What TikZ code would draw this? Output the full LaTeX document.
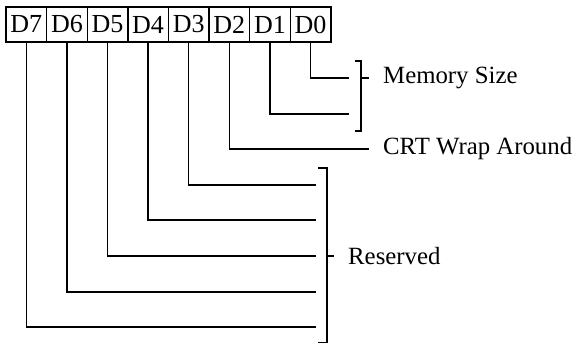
\documentclass[tikz,border=0pt]{standalone}
\usepackage{fontspec}
\setmainfont{Liberation Serif}
\begin{document}
\begin{tikzpicture}[x=1pt,y=-1pt,
  bitbox/.style={draw,line width=1.4pt,minimum width=40.6pt,minimum height=35pt,inner sep=0pt,font=\fontsize{26}{28}\selectfont},
  wire/.style={line width=1.5pt},
  lbl/.style={anchor=west,inner sep=0pt,font=\fontsize{24.8}{27}\selectfont}]
\useasboundingbox (0,0) rectangle (577,344);
\foreach \i/\n in {0/7,1/6,2/5,3/4,4/3,5/2,6/1,7/0}{
  \node[bitbox] (b\n) at ({26.3+40.6*\i},24.5) {D\n};
}
% end coordinates
\coordinate (e0) at (349,78);
\coordinate (e1) at (349,114);
\coordinate (e2) at (369,149);
\coordinate (e3) at (316,185);
\coordinate (e4) at (316,220);
\coordinate (e5) at (316,256);
\coordinate (e6) at (316,292);
\coordinate (e7) at (316,327);
\foreach \n in {0,...,7}{
  \draw[wire] (b\n.south) |- (e\n);
}
% brackets
\coordinate (m1) at (355,61); \coordinate (m2) at (361,61);
\coordinate (m3) at (361,131); \coordinate (m4) at (355,131);
\coordinate (mt1) at (361,78); \coordinate (mt2) at (369,78);
\draw[wire] (m1) -- (m2) -- (m3) -- (m4);
\draw[wire] (mt1) -- (mt2);
\coordinate (r1) at (318,168); \coordinate (r2) at (327,168);
\coordinate (r3) at (327,342.5); \coordinate (r4) at (318,342.5);
\coordinate (rt1) at (327,256); \coordinate (rt2) at (334,256);
\draw[wire] (r1) -- (r2) -- (r3) -- (r4);
\draw[wire] (rt1) -- (rt2);
% labels
\node[lbl] (mem) at (383,78) {Memory Size};
\node[lbl] (crt) at (383,149) {CRT Wrap Around};
\node[lbl] (res) at (348,256) {Reserved};
\end{tikzpicture}
\end{document}
